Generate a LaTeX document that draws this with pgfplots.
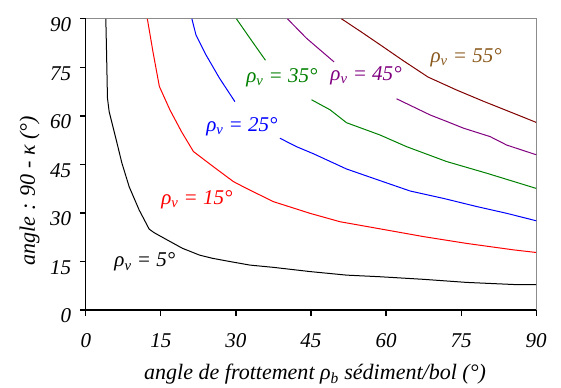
\documentclass[border=0pt]{standalone}
\usepackage{fontspec}
\setmainfont{Liberation Serif}
\usepackage{pgfplots}
\pgfplotsset{compat=1.18}

\definecolor{cgreen}{HTML}{008000}
\definecolor{cpurple}{HTML}{800080}
\definecolor{cdarkred}{HTML}{800000}
\definecolor{cbrown}{HTML}{8B5A1E}
\definecolor{cframe}{HTML}{8C8C8C}

\newcommand{\lblfont}{\fontsize{21}{25}\selectfont\itshape}
\newcommand{\axfont}{\fontsize{22}{26}\selectfont\itshape}
\newcommand{\rv}[1]{ρ\textsubscript{v} = #1°}

\begin{document}
\begin{tikzpicture}
\begin{axis}[
  scale only axis, width=450pt, height=291pt,
  xmin=0, xmax=90, ymin=0, ymax=90,
  xtick={0,15,...,90}, ytick={0,15,...,90},
  axis lines*=left,
  axis line style={line width=1.3pt},
  tick align=outside, major tick length=6pt,
  tick style={line width=1.2pt, black},
  /pgf/number format/assume math mode=true,
  ticklabel style={font=\lblfont},
  xticklabel style={yshift=-14pt},
  yticklabel style={xshift=-5pt, yshift=-6pt},
  xlabel={angle de frottement ρ\textsubscript{b} sédiment/bol (°)},
  ylabel={angle : 90 - κ (°)},
  every axis x label/.style={at={(axis description cs:0.509,-0.22)}, anchor=center, font=\axfont},
  every axis y label/.style={at={(axis description cs:-0.125,0.41)}, anchor=center, rotate=90, font=\axfont},
  clip=false,
]
% page margins around the plot area
\path (rel axis cs:-0.1905,-0.2637) rectangle (rel axis cs:1.0551,1.0647);
% plot-area border, top and right
\addplot[cframe, line width=1.3pt, forget plot] coordinates {(0,90) (90,90) (90,0)};
% rho_v = 5
\addplot[black, line width=1pt] coordinates {(4.0,90) (4.13,80.9) (4.33,65.5) (4.67,61.3) (6.0,53.1) (7.2,45.5) (8.67,38.1) (10.67,30.9) (12.67,25.0) (13.67,23.9) (16,21.9) (19.3,19.1) (22.7,17.0) (25.3,16.0) (28.8,15.0) (32.8,13.9) (37.5,13.2) (44.8,11.9) (52.1,10.8) (58.8,10.3) (67.5,9.5) (76.1,8.55) (85.5,7.9) (90,7.9)};
% rho_v = 15
\addplot[red, line width=1pt] coordinates {(12.3,90) (13.4,80) (14.7,69.1) (16.8,61.9) (19.1,55.2) (21.5,49.0) (25.5,44.3) (29.5,39.7) (32.1,37.6) (37.5,33.5) (44.8,29.9) (50.8,27.3) (58.8,25.1) (67.5,22.7) (76.1,20.6) (85.5,18.6) (90,17.8)};
% rho_v = 25
\addplot[blue, line width=1pt] coordinates {(21.2,90) (22,85.1) (24,78.9) (26.7,71.7) (29.8,64.4)};
\addplot[blue, line width=1pt] coordinates {(38.8,53.1) (42.1,50.5) (45.5,48.3) (52.1,43.6) (58.8,40.0) (64.8,36.8) (71.5,34.5) (78.1,32.0) (84.1,29.9) (90,27.6)};
% rho_v = 35
\addplot[cgreen, line width=1pt] coordinates {(30.1,90) (32.8,84.0) (35.9,77.2)};
\addplot[cgreen, line width=1pt] coordinates {(45.1,65.0) (48.8,61.9) (52.1,57.9) (58.8,54.1) (64.1,50.5) (72.1,45.9) (80.1,42.3) (90,37.6)};
% rho_v = 45
\addplot[cpurple, line width=1pt] coordinates {(40.3,90) (44.1,84.0) (49.6,76.7)};
\addplot[cpurple, line width=1pt] coordinates {(62.1,65.3) (68.8,60.3) (72.1,58.3) (75.5,56.2) (80.8,53.6) (84.1,51.0) (90,48.0)};
% rho_v = 55
\addplot[cdarkred, line width=1pt] coordinates {(51.1,90) (55,86) (58.8,82.0) (63.5,77.0) (68.4,72.0) (74.1,68.0) (79.5,64.5) (85.5,60.8) (90,58.0)};

% curve labels
\node[black, font=\lblfont] at (axis cs:11.8,14.8) {\rv{5}};
\node[red, font=\lblfont] at (axis cs:22.2,34.0) {\rv{15}};
\node[blue, font=\lblfont] at (axis cs:31.2,56.6) {\rv{25}};
\node[cgreen, font=\lblfont] at (axis cs:39.2,71.7) {\rv{35}};
\node[cpurple, font=\lblfont] at (axis cs:56,72.4) {\rv{45}};
\node[cbrown, font=\lblfont] at (axis cs:76,77.9) {\rv{55}};
\end{axis}
\end{tikzpicture}
\end{document}
